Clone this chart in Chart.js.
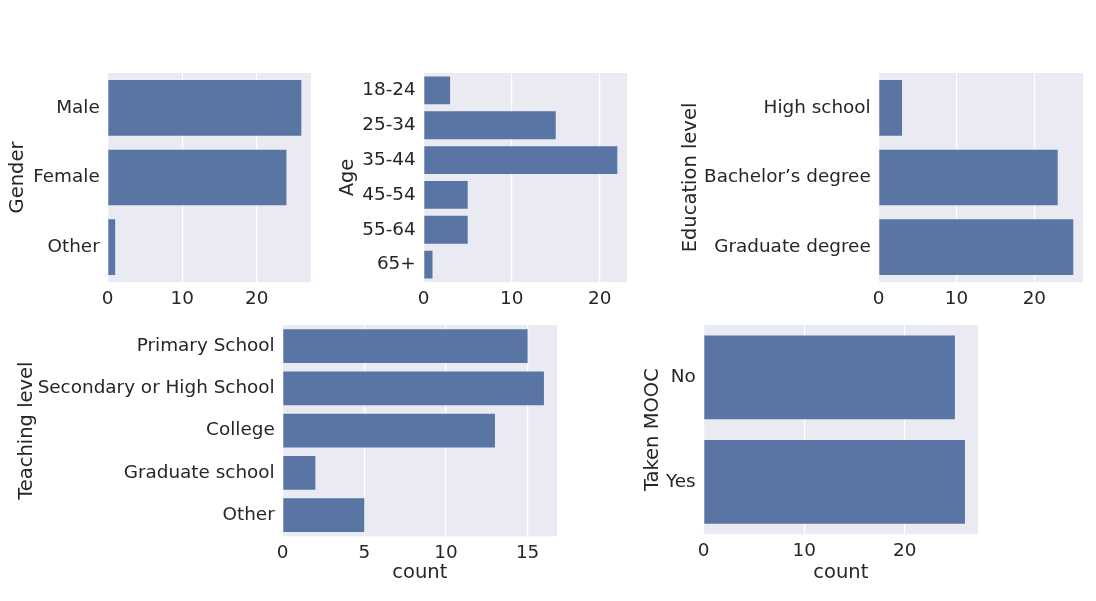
<!DOCTYPE html>
<html lang="en">
<head>
  <meta charset="UTF-8" />
  <title>Survey counts</title>
  <script src="https://cdn.jsdelivr.net/npm/chart.js"></script>
  <style>
    body { margin: 0; background: #fff; font-family: 'DejaVu Sans', sans-serif; }
    #wrap { position: relative; width: 1096px; height: 601px; overflow: hidden; }
    #wrap canvas { position: absolute; }
  </style>
</head>
<body>
  <div id="wrap"></div>

  <script>
    // data
    const genderLabels = ['Male', 'Female', 'Other'];
    const genderCounts = [26, 24, 1];

    const ageLabels = ['18-24', '25-34', '35-44', '45-54', '55-64', '65+'];
    const ageCounts = [3, 15, 22, 5, 5, 1];

    const eduLabels = ['High school', 'Bachelor’s degree', 'Graduate degree'];
    const eduCounts = [3, 23, 25];

    const teachLabels = ['Primary School', 'Secondary or High School', 'College', 'Graduate school', 'Other'];
    const teachCounts = [15, 16, 13, 2, 5];

    const moocLabels = ['No', 'Yes'];
    const moocCounts = [25, 26];

    // layout: plot box in page pixels + where the y title sits
    const panels = [
      { labels: genderLabels, values: genderCounts, yTitle: 'Gender', step: 10, l: 108, t: 73, r: 311, b: 282, titleX: 18, count: false },
      { labels: ageLabels, values: ageCounts, yTitle: 'Age', step: 10, l: 424, t: 73, r: 627, b: 282, titleX: 348, count: false },
      { labels: eduLabels, values: eduCounts, yTitle: 'Education level', step: 10, l: 879, t: 73, r: 1083, b: 282, titleX: 691, count: false },
      { labels: teachLabels, values: teachCounts, yTitle: 'Teaching level', step: 5, l: 283, t: 325, r: 557, b: 536, titleX: 27, count: true },
      { labels: moocLabels, values: moocCounts, yTitle: 'Taken MOOC', step: 10, l: 704, t: 325, r: 978, b: 534, titleX: 653, count: true }
    ];

    const textColor = '#262626';
    const barColor = '#5975a4';
    const tickFont = { family: 'DejaVu Sans', size: 18.4 };
    const titleFont = { family: 'DejaVu Sans', size: 19.5, lineHeight: 1.2 };

    const bgPlugin = {
      id: 'bg',
      beforeDraw(chart) {
        const a = chart.chartArea;
        const ctx = chart.ctx;
        ctx.save();
        ctx.fillStyle = '#eaeaf2';
        ctx.fillRect(a.left, a.top, a.right - a.left, a.bottom - a.top);
        ctx.restore();
      }
    };

    const wrap = document.getElementById('wrap');
    const padTop = 10, padRight = 10;

    panels.forEach(p => {
      const halfTitle = titleFont.size * titleFont.lineHeight / 2;
      const left = p.titleX - halfTitle;
      const top = p.t - padTop;
      const countY = 573;
      const xAxisH = p.count ? (countY + halfTitle - p.b) : 40;
      const yAxisW = p.l - left;
      const w = Math.round(p.r + padRight - left);
      const h = Math.round(p.b + xAxisH - top);

      const canvas = document.createElement('canvas');
      canvas.style.left = left + 'px';
      canvas.style.top = top + 'px';
      canvas.style.width = w + 'px';
      canvas.style.height = h + 'px';
      canvas.width = w;
      canvas.height = h;
      wrap.appendChild(canvas);

      new Chart(canvas, {
        type: 'bar',
        data: {
          labels: p.labels,
          datasets: [{
            data: p.values,
            backgroundColor: barColor,
            borderWidth: 0,
            categoryPercentage: 0.8,
            barPercentage: 1
          }]
        },
        options: {
          indexAxis: 'y',
          responsive: false,
          animation: false,
          layout: { padding: { top: padTop, right: padRight, left: 0, bottom: 0 } },
          plugins: { legend: { display: false }, tooltip: { enabled: false } },
          scales: {
            x: {
              min: 0,
              max: Math.max(...p.values) * 1.05,
              border: { display: false },
              grid: { color: '#ffffff', lineWidth: 1.2, drawTicks: false },
              ticks: { stepSize: p.step, includeBounds: false, padding: 6, color: textColor, font: tickFont },
              title: { display: p.count, text: 'count', color: textColor, font: titleFont, padding: 0 },
              afterFit: s => { s.height = xAxisH; s.paddingLeft = 0; s.paddingRight = 0; }
            },
            y: {
              border: { display: false },
              grid: { display: false, drawTicks: false },
              ticks: { padding: 8, color: textColor, font: tickFont },
              title: { display: true, text: p.yTitle, color: textColor, font: titleFont, padding: 0 },
              afterFit: s => { s.width = yAxisW; s.paddingTop = 0; s.paddingBottom = 0; }
            }
          }
        },
        plugins: [bgPlugin]
      });
    });
  </script>
</body>
</html>
